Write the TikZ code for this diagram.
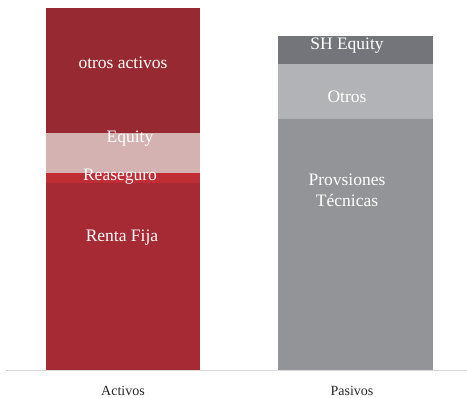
\documentclass[tikz,border=0pt]{standalone}
\usepackage{fontspec}
\setmainfont{Liberation Serif}
\definecolor{activoDark}{RGB}{150, 41, 50}
\definecolor{activoRed}{RGB}{165, 42, 52}
\definecolor{equityPink}{RGB}{212, 178, 178}
\definecolor{reaseguroRed}{RGB}{192, 45, 52}
\definecolor{pasivoDark}{RGB}{115, 117, 122}
\definecolor{pasivoLight}{RGB}{178, 179, 182}
\definecolor{pasivoMid}{RGB}{147, 148, 152}
\definecolor{axisGray}{RGB}{217, 217, 217}

\begin{document}
\begin{tikzpicture}[x=1pt, y=-1pt]
  \tikzstyle{seg} = [white, inner sep=0pt, font=\fontsize{17.5}{21}\selectfont, align=center]
  \tikzstyle{cat} = [black!85, inner sep=0pt, font=\fontsize{14}{16}\selectfont]
  \useasboundingbox (0,0) rectangle (467,398);

  % Activos
  \fill[activoDark] (46,8) rectangle (200,133);
  \fill[equityPink] (46,133) rectangle (200,173);
  \fill[reaseguroRed] (46,173) rectangle (200,183);
  \fill[activoRed] (46,183) rectangle (200,370);

  % Pasivos
  \fill[pasivoDark] (278,36) rectangle (433,64);
  \fill[pasivoLight] (278,64) rectangle (433,119);
  \fill[pasivoMid] (278,119) rectangle (433,370);

  % Axis
  \draw[axisGray, line width=1.2pt] (6,370.8) -- (467,370.8);

  % Labels
  \node[seg] (otros) at (123,63) {otros activos};
  \node[seg] (equity) at (130,139) {Equity};
  \node[seg] (reas) at (120,177) {Reaseguro};
  \node[seg] (renta) at (122,238) {Renta Fija};
  \node[seg] (sheq) at (347,46) {SH Equity};
  \node[seg] (otrosp) at (347,97) {Otros};
  \node[seg] (prov) at (347,190) {Provsiones\\T\'ecnicas};
  \node[cat] (act) at (123,391) {Activos};
  \node[cat] (pas) at (352,391) {Pasivos};
\end{tikzpicture}
\end{document}
